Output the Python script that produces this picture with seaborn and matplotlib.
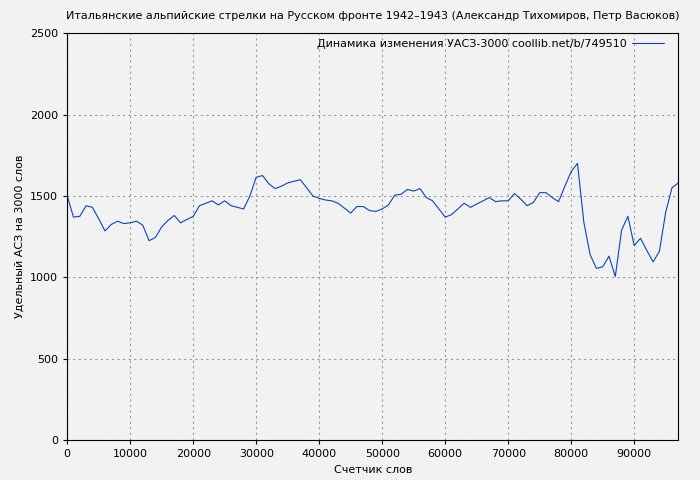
import matplotlib
matplotlib.use("Agg")
import matplotlib.pyplot as plt
import pandas as pd
import seaborn as sns

words = list(range(0, 98000, 1000))
uasz = [1500, 1370, 1375, 1440, 1430, 1360, 1285, 1325, 1345, 1330,
        1335, 1345, 1320, 1225, 1245, 1310, 1350, 1380, 1335, 1355,
        1375, 1440, 1455, 1470, 1445, 1470, 1440, 1430, 1420, 1500,
        1615, 1625, 1575, 1545, 1560, 1580, 1590, 1600, 1550, 1500,
        1485, 1475, 1470, 1455, 1425, 1395, 1435, 1435, 1410, 1405,
        1420, 1445, 1505, 1510, 1540, 1530, 1545, 1490, 1470, 1420,
        1370, 1385, 1420, 1455, 1430, 1450, 1470, 1490, 1465, 1470,
        1470, 1515, 1480, 1440, 1460, 1520, 1520, 1490, 1465, 1560,
        1650, 1700, 1340, 1140, 1055, 1065, 1130, 1005, 1290, 1375,
        1195, 1240, 1165, 1095, 1160, 1400, 1550, 1580]

df = pd.DataFrame({"x": words, "y": uasz})

sns.set_style("white")
plt.rcParams['font.family'] = ['DejaVu Sans']
plt.rcParams['text.color'] = 'black'
plt.rcParams['axes.labelcolor'] = 'black'
plt.rcParams['xtick.color'] = 'black'
plt.rcParams['ytick.color'] = 'black'
fig = plt.figure(figsize=(7, 4.8), dpi=100, facecolor="#f2f2f2")
ax = fig.add_axes([0.096, 0.083, 0.873, 0.848])
ax.set_facecolor("#f2f2f2")
sns.lineplot(data=df, x="x", y="y", ax=ax, color="#0a46b4", linewidth=0.8,
             label="Динамика изменения УАСЗ-3000 coollib.net/b/749510")
ax.set_xlim(0, 97000)
ax.set_ylim(0, 2500)
ax.set_xticks(range(0, 97000, 10000))
ax.set_yticks(range(0, 2501, 500))
ax.grid(True, linestyle=(0, (2, 3)), color="#999999", linewidth=0.8)
for s in ax.spines.values():
    s.set_color("black")
ax.tick_params(labelsize=8, length=3, direction="out", left=True, bottom=True)
ax.set_xlabel("Счетчик слов", fontsize=8)
ax.set_ylabel("Удельный АСЗ на 3000 слов", fontsize=8)
ax.set_title("Итальянские альпийские стрелки на Русском фронте 1942–1943 (Александр Тихомиров, Петр Васюков)",
             fontsize=8, pad=10)
leg = ax.legend(loc="upper right", fontsize=8, frameon=False, markerfirst=False,
                handlelength=2.8, borderaxespad=0.1, handletextpad=0.5,
                bbox_to_anchor=(0.985, 1.0))
fig.savefig("out.png", dpi=100, facecolor=fig.get_facecolor())
